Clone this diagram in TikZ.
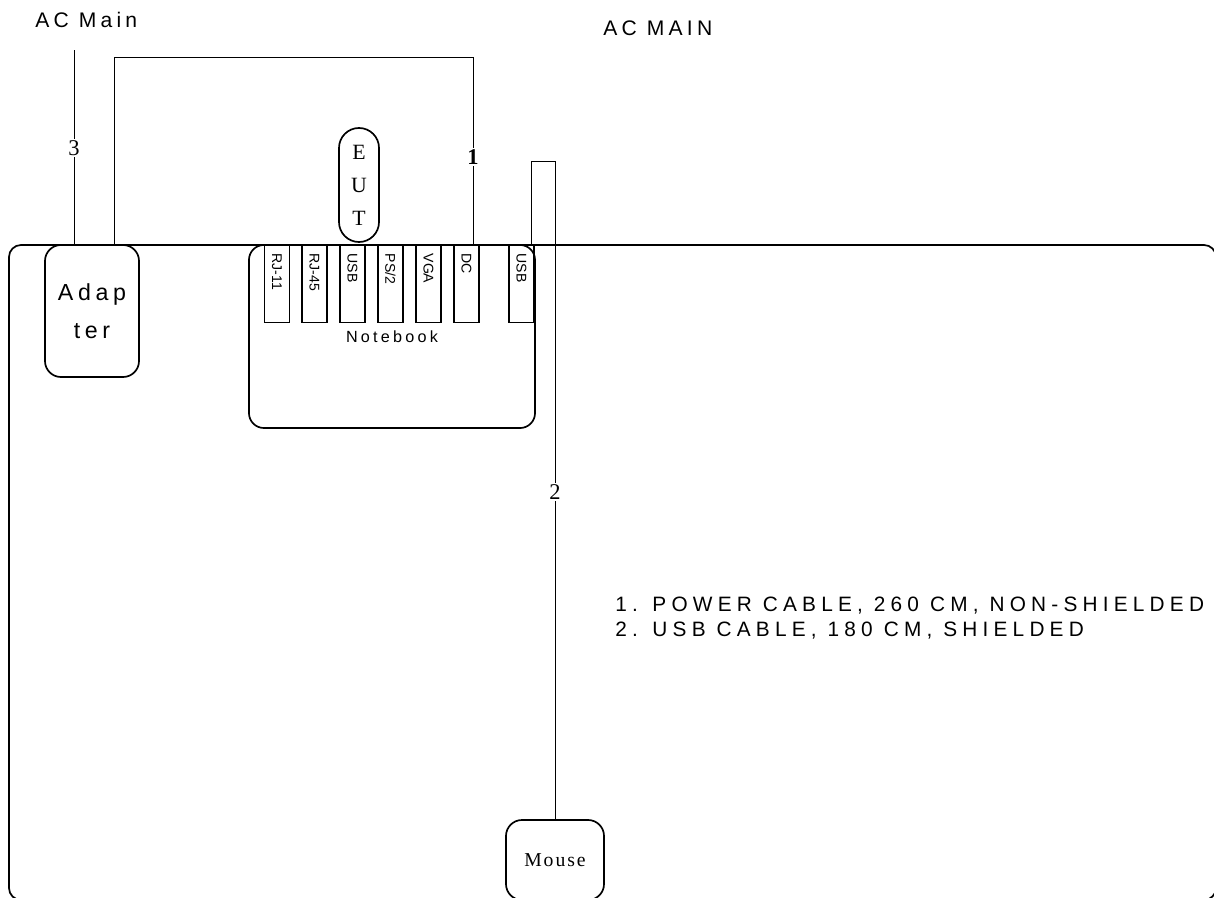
\documentclass[tikz,border=0pt]{standalone}
\usepackage{fontspec}
\setmainfont{Liberation Serif}
\newfontfamily\spsans[LetterSpace=20]{Liberation Sans}
\newfontfamily\widesans[LetterSpace=25]{Liberation Sans}
\newfontfamily\plainsans{Liberation Sans}
\newfontfamily\spserif[LetterSpace=10]{Liberation Serif}
\tikzset{
	box/.style={draw, line width=1.2pt, rounded corners=0.4cm},
	port/.style={draw, line width=0.9pt, rotate=-90, anchor=west, minimum height=0.63cm, text width=1.53cm, inner xsep=0.2cm, align=left, font=\plainsans\fontsize{10}{11}\selectfont},
	cable/.style={line width=0.6pt},
	num/.style={fill=white, inner sep=1pt, font=\fontsize{16}{16}\selectfont},
	title/.style={inner sep=0pt, anchor=base west, font=\spsans\fontsize{15}{18}\selectfont},
}
\begin{document}
\begin{tikzpicture}[x=0.025cm, y=-0.025cm]
			\useasboundingbox (0,0) rectangle (1214,898);
			\clip (0,0) rectangle (1214,898);
			
			\node[title] (acmain) at (35,28) {AC Main};
			\node[title] (acmainb) at (603,36) {AC MAIN};
			
			\draw[line width=1.2pt, rounded corners=0.3cm] (9,245) rectangle (1216,900);
			
			\node[box, minimum width=2.35cm, minimum height=3.3cm, align=center, font=\spsans\fontsize{16.5}{27}\selectfont] (adapter) at (92,311) {Adap\\ter};
			\node[box, rounded corners=0.5cm, minimum width=1cm, minimum height=2.85cm, inner sep=0pt, align=center, font=\fontsize{15.5}{23.5}\selectfont] (eut) at (359,185) {E\\U\\T};
			\node[box, rounded corners=0.375cm, minimum width=7.15cm, minimum height=4.575cm, font=\spsans\fontsize{11.5}{14}\selectfont] (notebook) at (392,336.5) {Notebook};
			\node[box, minimum width=2.45cm, minimum height=2cm, font=\spserif\fontsize{14}{16}\selectfont] (mouse) at (555,860) {Mouse};
			
			\node[port] (rj11) at (277,245) {RJ-11};
			\node[port] (rj45) at (314.5,245) {RJ-45};
			\node[port] (usba) at (352.5,245) {USB};
			\node[port] (ps2) at (390.5,245) {PS/2};
			\node[port] (vga) at (428.5,245) {VGA};
			\node[port] (dc) at (466.5,245) {DC};
			\node[port] (usbb) at (521.5,245) {USB};
			
			\coordinate (ac3) at (74,50);
			\coordinate (c1a) at (114,57); \coordinate (c1b) at (473,57);
			\coordinate (c2a) at (531,161); \coordinate (c2b) at (555,161);
			
			\draw[cable] (adapter.north -| ac3) -- (ac3);
			\draw[cable] (adapter.north -| c1a) -- (c1a) -- (c1b) -- (c1b |- dc.west);
			\draw[cable] (c2a |- usbb.west) -- (c2a) -- (c2b) -- (mouse.north);
			
			\node[num] (n3) at (74,148) {3};
			\node[num, font=\bfseries\fontsize{16}{16}\selectfont] (n1) at (473,157) {1};
			\node[num] (n2) at (555,492) {2};
			
			\node[inner sep=0pt, anchor=west, align=left, font=\widesans\fontsize{14.8}{18}\selectfont] (legend) at (615,618) {1. POWER CABLE, 260 CM, NON-SHIELDED\\2. USB CABLE, 180 CM, SHIELDED};
		\end{tikzpicture}
\end{document}
